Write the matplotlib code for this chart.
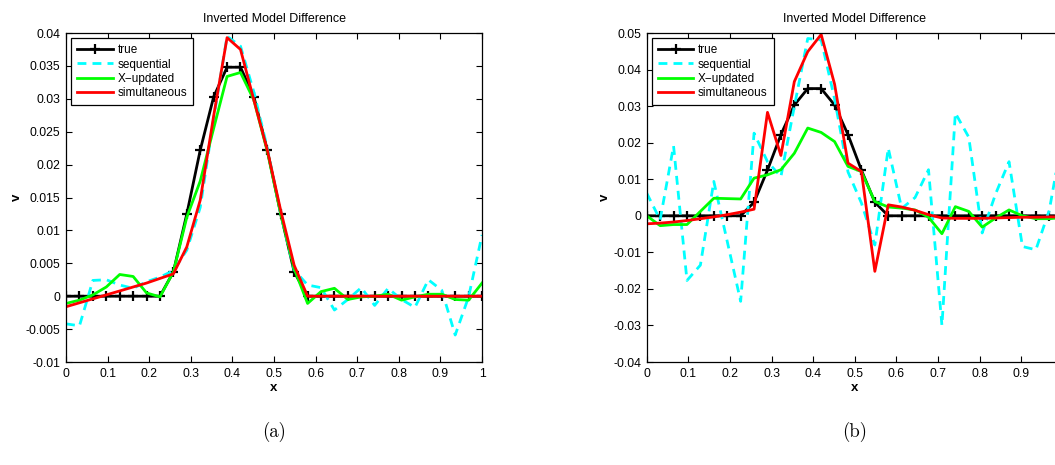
import matplotlib
matplotlib.use("Agg")
import matplotlib.pyplot as plt
import numpy as np

plt.rcParams['font.family'] = ['Liberation Sans', 'DejaVu Sans']

# model grid (32 nodes on [0, 1])
x = np.linspace(0, 1, 32)

true_v = [0, 0, 0, 0, 0, 0, 0, 0,
          0.0037, 0.0125, 0.0222, 0.0303, 0.0348, 0.0348, 0.0303, 0.0222, 0.0125, 0.0037,
          0, 0, 0, 0, 0, 0, 0, 0, 0, 0, 0, 0, 0, 0]

# panel (a)
seq_a = [-0.0042, -0.0045, 0.0024, 0.0025, 0.0017, 0.0012, 0.0022, 0.0029,
         0.0039, 0.007, 0.0135, 0.027, 0.0395, 0.038, 0.031, 0.0225, 0.0125, 0.004,
         0.0017, 0.0013, -0.0021, -0.0005, 0.0013, -0.0014, 0.0012, -0.0005,
         -0.0017, 0.0025, 0.0009, -0.0059, -0.0001, 0.0093]
xupd_a = [-0.0011, -0.0006, 0.0002, 0.0014, 0.0033, 0.003, 0.0005, -0.0001,
          0.0037, 0.012, 0.0175, 0.0255, 0.0334, 0.034, 0.0298, 0.022, 0.0125, 0.0042,
          -0.0011, 0.0007, 0.0012, -0.0005, -0.0001, 0.0, 0.0003, -0.0006,
          -0.0001, 0.0003, 0.0003, -0.0005, -0.0006, 0.002]
simul_a = [-0.0016, -0.001, -0.0004, 0.0002, 0.0008, 0.0014, 0.002, 0.0027,
           0.0034, 0.0075, 0.0146, 0.0274, 0.0393, 0.0375, 0.0298, 0.0222, 0.013, 0.0047,
           0, 0, 0, 0, 0, 0, 0, 0, 0, 0, 0, 0, 0, 0]

# panel (b)
seq_b = [0.0062, -0.0011, 0.0191, -0.0177, -0.0135, 0.0094, -0.007, -0.0234,
         0.0226, 0.0148, 0.0107, 0.0299, 0.0485, 0.0481, 0.032, 0.012, 0.0035, -0.008,
         0.0185, 0.002, 0.005, 0.0126, -0.030, 0.0281, 0.0215, -0.0047,
         0.006, 0.0148, -0.0084, -0.0093, 0.0015, 0.022]
xupd_b = [0.0, -0.0027, -0.0024, -0.0024, 0.0012, 0.0048, 0.0047, 0.0046,
          0.0103, 0.0112, 0.0126, 0.0171, 0.024, 0.0228, 0.0203, 0.0135, 0.0121, 0.0039,
          0.0024, 0.0021, 0.0016, -0.0004, -0.0049, 0.0025, 0.0012, -0.0031,
          -0.0006, 0.0016, 0.0, -0.0008, -0.0008, -0.0005]
simul_b = [-0.0022, -0.002, -0.0017, -0.0013, -0.0008, -0.0003, 0.0003, 0.001,
           0.0018, 0.0283, 0.0165, 0.0367, 0.0449, 0.0496, 0.036, 0.0144, 0.0121, -0.0152,
           0.003, 0.0024, 0.0015, 0.0003, -0.0006, -0.0007, -0.0007, -0.0007,
           -0.0006, -0.0005, -0.0004, -0.0004, -0.0003, -0.0003]

labels = ['true', 'sequential', 'X\u2212updated', 'simultaneous']
xticks = np.round(np.arange(0, 1.01, 0.1), 1)
yticks_a = np.round(np.arange(-0.01, 0.0401, 0.005), 3)
yticks_b = np.round(np.arange(-0.04, 0.0501, 0.01), 2)


def fmt(v):
    return '%g' % v


fig = plt.figure(figsize=(10.55, 4.65), dpi=100)
ax_a = fig.add_axes([0.0626, 0.2215, 0.3943, 0.7075])
# right panel runs past the right edge of the page, as in the source
ax_b = fig.add_axes([0.613, 0.2215, 0.3943, 0.7075])

panels = [(ax_a, seq_a, xupd_a, simul_a, yticks_a),
          (ax_b, seq_b, xupd_b, simul_b, yticks_b)]

for ax, seq, xupd, simul, yt in panels:
    ax.plot(x, true_v, color='k', lw=2, marker='+', ms=7, mew=1.6, label=labels[0])
    ax.plot(x, seq, color='#00ffff', lw=2, ls=(0, (3.2, 2.2)), label=labels[1])
    ax.plot(x, xupd, color='#00ff00', lw=2, label=labels[2])
    ax.plot(x, simul, color='#ff0000', lw=2, label=labels[3])

    ax.set_xlim(0, 1)
    ax.set_ylim(yt[0], yt[-1])
    ax.set_xticks(xticks)
    xl = [fmt(t) for t in xticks]
    if ax is ax_b:
        xl[-1] = ''
    ax.set_xticklabels(xl)
    ax.set_yticks(yt)
    ax.set_yticklabels([fmt(t) for t in yt])
    ax.tick_params(direction='in', length=4, width=0.8, labelsize=8.8,
                   top=True, right=True, pad=4)
    for s in ax.spines.values():
        s.set_linewidth(0.9)

    ax.set_title('Inverted Model Difference', fontsize=9, pad=8)
    ax.set_xlabel('x', fontsize=9.5, fontweight='bold', labelpad=2)
    ax.set_ylabel('v', fontsize=9.5, fontweight='bold', labelpad=2)

    leg = ax.legend(loc='upper left', fontsize=8.5, handlelength=3,
                    handletextpad=0.4, labelspacing=0.2, borderpad=0.5,
                    borderaxespad=0.45, fancybox=False, framealpha=1,
                    edgecolor='k')
    leg.get_frame().set_linewidth(0.9)

fig.text(274 / 1055, 1 - 432 / 465, '(a)', ha='center', va='center',
         fontsize=13.5, family='cmr10')
fig.text(855 / 1055, 1 - 432 / 465, '(b)', ha='center', va='center',
         fontsize=13.5, family='cmr10')

fig.savefig('out.png', dpi=100)
